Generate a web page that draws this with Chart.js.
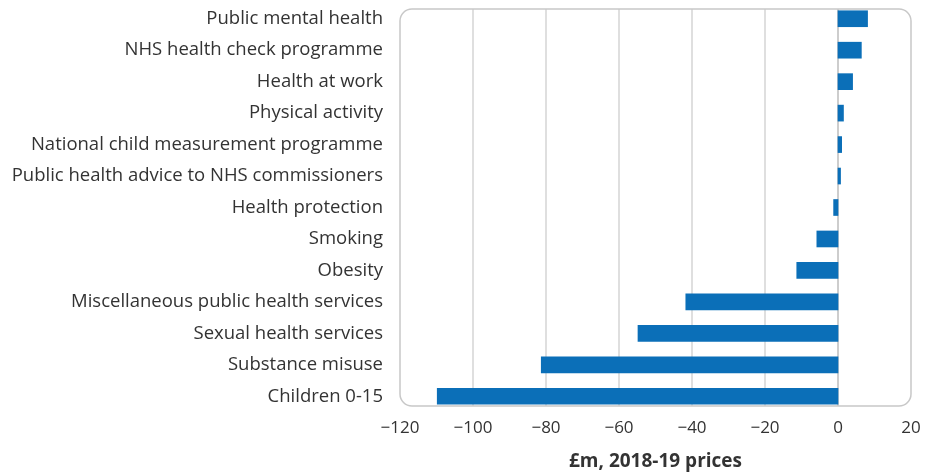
<!DOCTYPE html>
<html>
<head>
<meta charset="utf-8">
<script src="https://cdn.jsdelivr.net/npm/chart.js@4.4.1/dist/chart.umd.min.js"></script>
<style>
    body { margin: 0; background: #fff; }
    #wrap { width: 936px; height: 473px; }
</style>
</head>
<body>
<div id="wrap"><canvas id="publicHealth"></canvas></div>
<script>
// Services du budget de santé publique
const categories = [
    'Public mental health',
    'NHS health check programme',
    'Health at work',
    'Physical activity',
    'National child measurement programme',
    'Public health advice to NHS commissioners',
    'Health protection',
    'Smoking',
    'Obesity',
    'Miscellaneous public health services',
    'Sexual health services',
    'Substance misuse',
    'Children 0-15'
];

// Variation des dépenses, £m aux prix 2018-19
const changes = [8.1, 6.4, 4.0, 1.5, 1.0, 0.7, -1.2, -5.8, -11.3, -41.7, -54.8, -81.3, -109.8];

// Axe des x
const xMin = -120;
const xMax = 20;
const xStep = 20;
const xTitle = '£m, 2018-19 prices';

const textColor = '#333333';
const barColor = '#0b6fb8';
const inset = 6;

// Cadre arrondi + lignes verticales de la grille
const frame = {
    id: 'frame',
    beforeDatasetsDraw(chart) {
        const { ctx, chartArea: a, scales: { x } } = chart;
        const top = a.top + inset;
        const bottom = a.bottom - inset;
        ctx.save();
        ctx.lineWidth = 1.5;
        for (const t of x.ticks) {
            if (t.value === xMin || t.value === xMax) continue;
            const px = x.getPixelForValue(t.value);
            ctx.strokeStyle = t.value === 0 ? '#bdbdbd' : '#d4d4d4';
            ctx.beginPath();
            ctx.moveTo(px, top);
            ctx.lineTo(px, bottom);
            ctx.stroke();
        }
        ctx.restore();
    },
    afterDatasetsDraw(chart) {
        const { ctx, chartArea: a } = chart;
        const l = a.left, r = a.right, t = a.top + inset, b = a.bottom - inset;
        const rad = 12;
        ctx.save();
        ctx.strokeStyle = '#c8c8c8';
        ctx.lineWidth = 1.5;
        ctx.beginPath();
        ctx.moveTo(l + rad, t);
        ctx.lineTo(r - rad, t);
        ctx.arcTo(r, t, r, t + rad, rad);
        ctx.lineTo(r, b - rad);
        ctx.arcTo(r, b, r - rad, b, rad);
        ctx.lineTo(l + rad, b);
        ctx.arcTo(l, b, l, b - rad, rad);
        ctx.lineTo(l, t + rad);
        ctx.arcTo(l, t, l + rad, t, rad);
        ctx.closePath();
        ctx.stroke();
        ctx.restore();
    }
};

Chart.defaults.font.family = '"Open Sans", sans-serif';
Chart.defaults.color = textColor;

new Chart(
    document.getElementById('publicHealth'),
    {
        type: 'bar',
        data: {
            labels: categories,
            datasets: [{
                data: changes,
                backgroundColor: barColor,
                barThickness: 16,
                categoryPercentage: 1
            }]
        },
        options: {
            indexAxis: 'y',
            responsive: true,
            maintainAspectRatio: false,
            animation: false,
            layout: {
                padding: { top: 3, right: 25, bottom: 0, left: 0 }
            },
            plugins: {
                legend: { display: false },
                tooltip: { enabled: false }
            },
            scales: {
                x: {
                    min: xMin,
                    max: xMax,
                    ticks: {
                        stepSize: xStep,
                        padding: 6,
                        font: { size: 17 },
                        color: textColor,
                        callback: v => v < 0 ? '\u2212' + Math.abs(v) : String(v)
                    },
                    grid: { display: false, drawTicks: false },
                    border: { display: false },
                    title: {
                        display: true,
                        text: xTitle,
                        color: textColor,
                        padding: 0,
                        font: { size: 19, weight: 'bold' }
                    },
                    afterFit: s => { s.height = 61; }
                },
                y: {
                    ticks: {
                        padding: 17,
                        font: { size: 18.5 },
                        color: textColor
                    },
                    grid: { display: false, drawTicks: false },
                    border: { display: false },
                    afterFit: s => {
                        s.width = 400;
                        s.paddingTop = 0;
                        s.paddingBottom = 0;
                    }
                }
            }
        },
        plugins: [frame]
    }
);
</script>
</body>
</html>
